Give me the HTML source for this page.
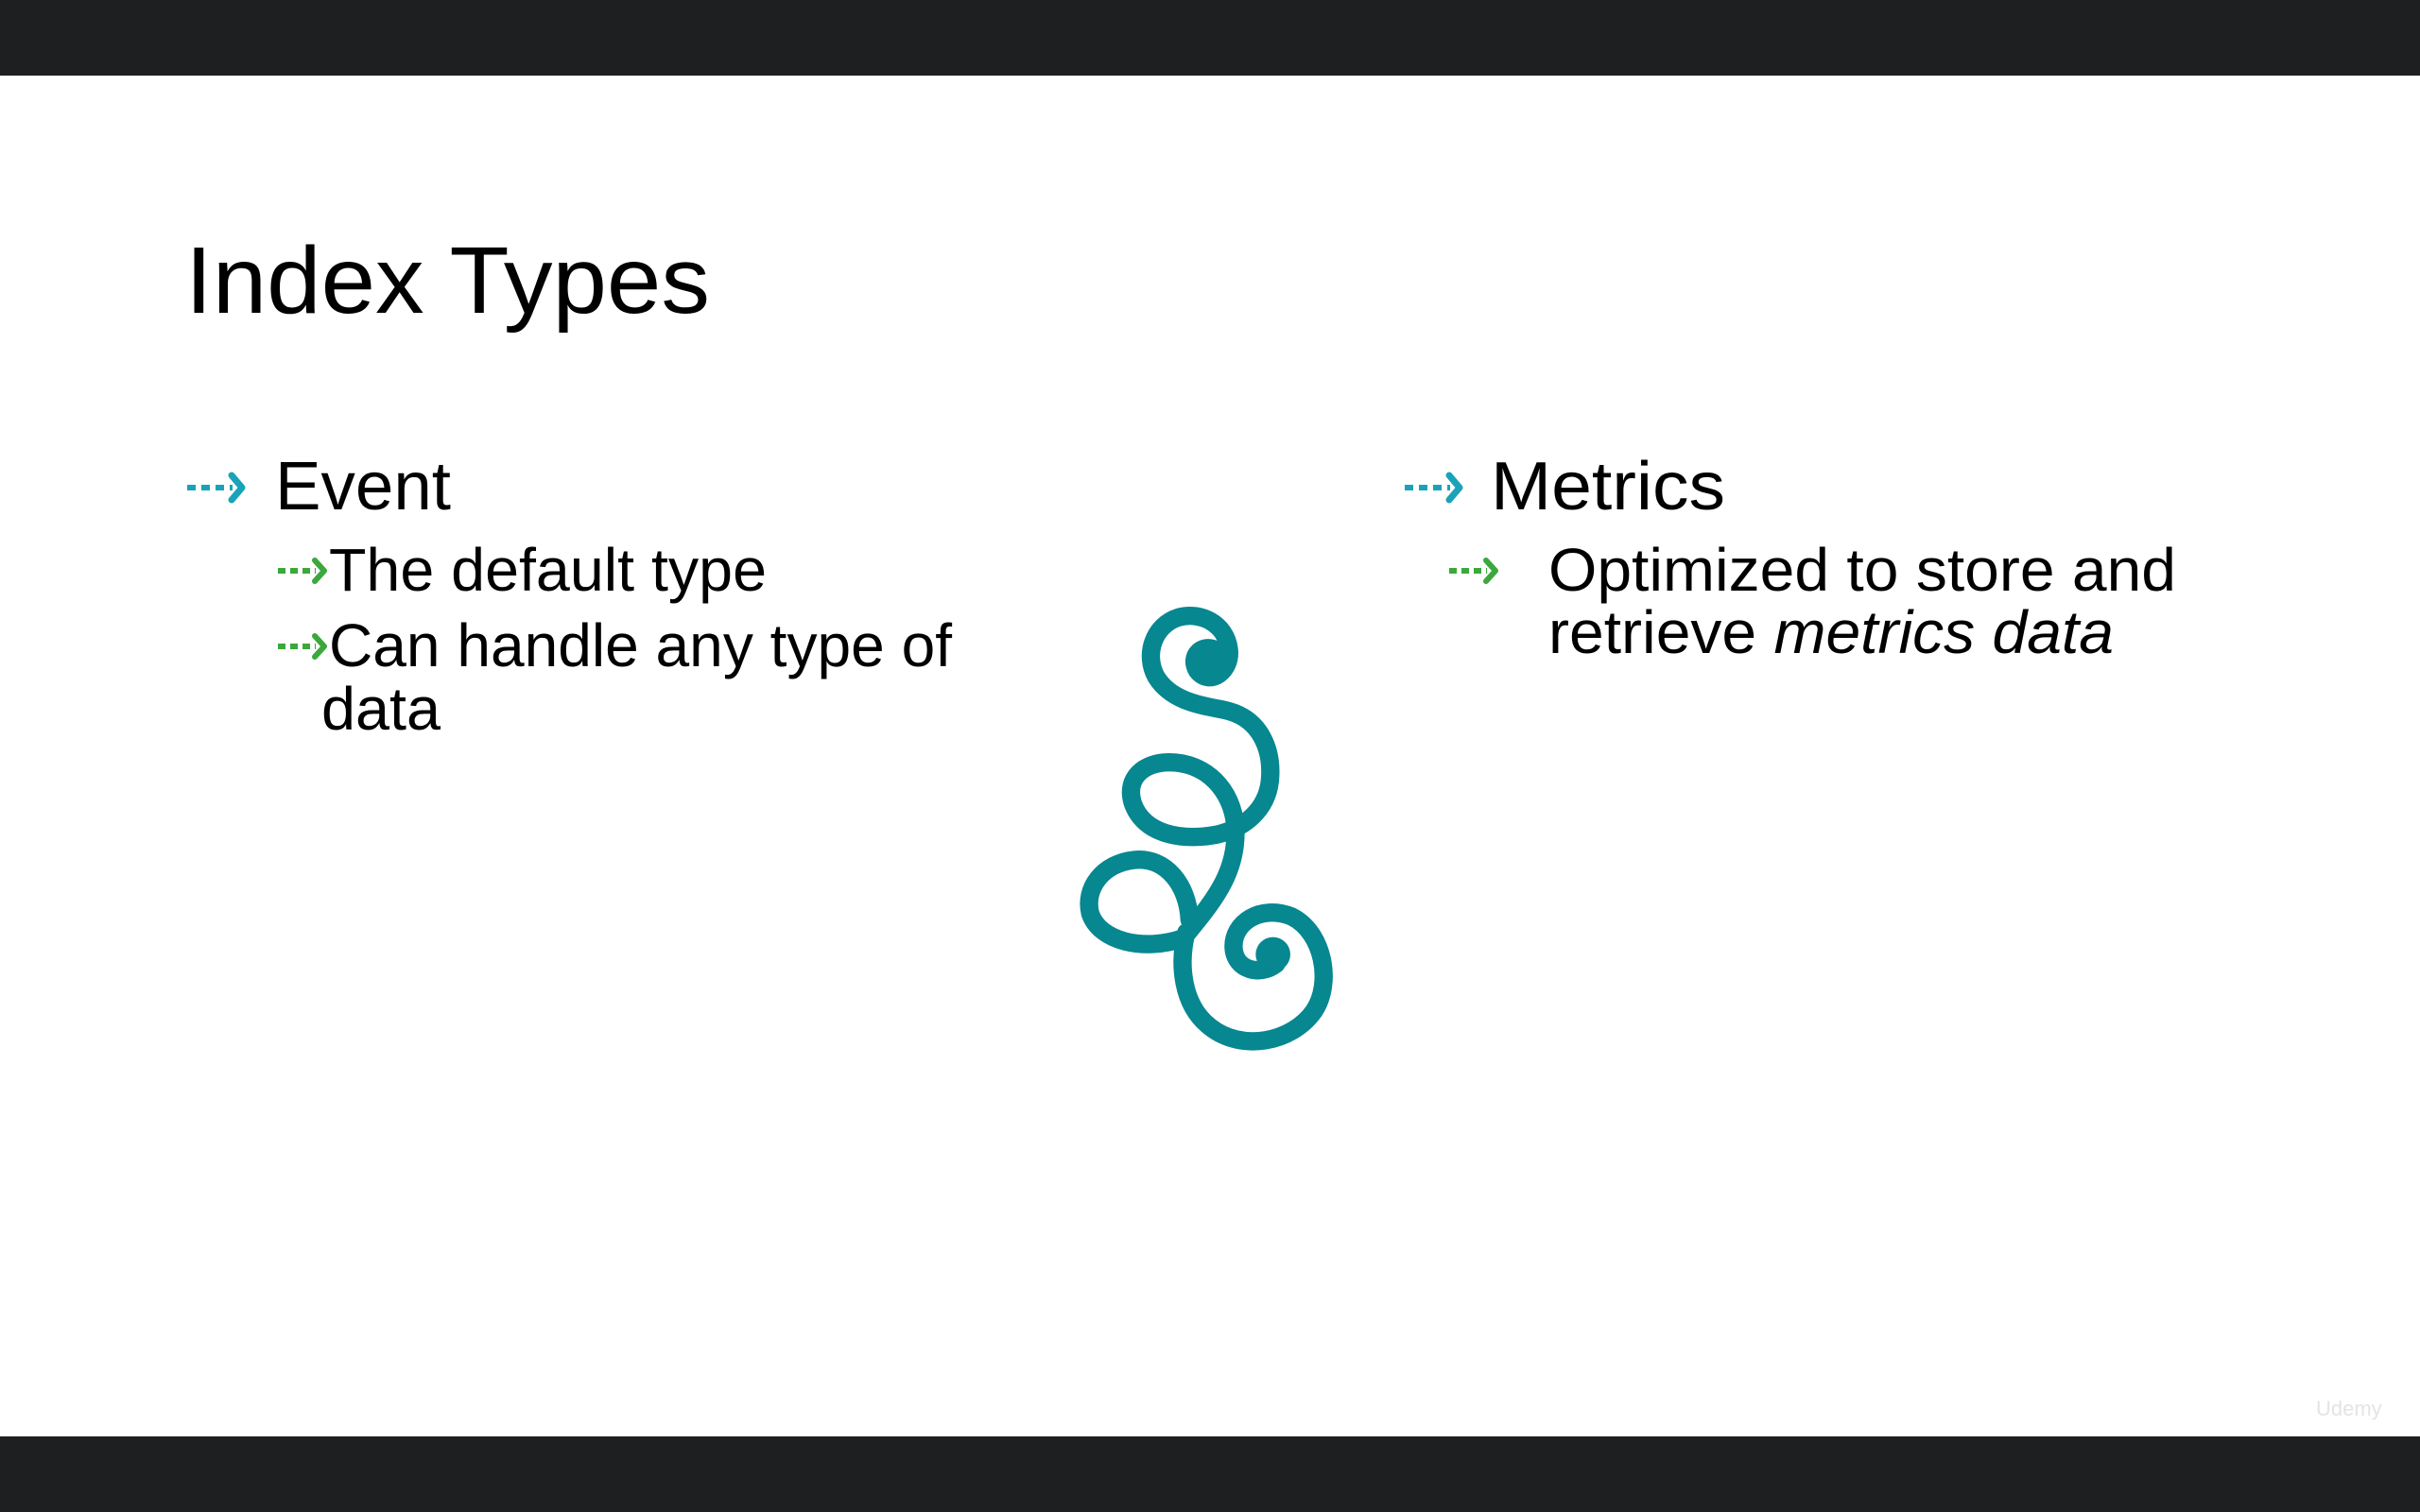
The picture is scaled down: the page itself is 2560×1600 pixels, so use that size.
<!DOCTYPE html>
<html><head><meta charset="utf-8"><style>
html,body{margin:0;padding:0;background:#fff;}
svg{display:block;}
text{font-family:"Liberation Sans",sans-serif;fill:#000;}
</style></head><body>
<svg width="2560" height="1600" viewBox="0 0 2560 1600" xmlns="http://www.w3.org/2000/svg">
<rect x="0" y="0" width="2560" height="80" fill="#1e1f21"/>
<rect x="0" y="1520" width="2560" height="80" fill="#1e1f21"/>

<text x="196" y="331" font-size="100" textLength="555" lengthAdjust="spacingAndGlyphs">Index Types</text>

<g fill="none" stroke-linecap="butt" stroke-width="6">
  <g stroke="#1aa3b8">
    <path d="M198 516 H246" stroke-dasharray="9 6"/>
    <path d="M245 503 L256 516 L245 529" stroke-width="7" stroke-linecap="round" stroke-linejoin="round"/>
    <path d="M1486 516 H1534" stroke-dasharray="9 6"/>
    <path d="M1533 503 L1544 516 L1533 529" stroke-width="7" stroke-linecap="round" stroke-linejoin="round"/>
  </g>
  <g stroke="#3ba83b">
    <path d="M294 604 H334" stroke-dasharray="8 5"/>
    <path d="M333 593 L343 604 L333 615" stroke-width="6" stroke-linecap="round" stroke-linejoin="round"/>
    <path d="M294 684 H334" stroke-dasharray="8 5"/>
    <path d="M333 673 L343 684 L333 695" stroke-width="6" stroke-linecap="round" stroke-linejoin="round"/>
    <path d="M1533 604 H1573" stroke-dasharray="8 5"/>
    <path d="M1572 593 L1582 604 L1572 615" stroke-width="6" stroke-linecap="round" stroke-linejoin="round"/>
  </g>
</g>

<text x="291" y="539" font-size="72" textLength="186" lengthAdjust="spacingAndGlyphs">Event</text>
<text x="348" y="625" font-size="64" textLength="463" lengthAdjust="spacingAndGlyphs">The default type</text>
<text x="348" y="705" font-size="64" textLength="659" lengthAdjust="spacingAndGlyphs">Can handle any type of</text>
<text x="340" y="772" font-size="64" textLength="126" lengthAdjust="spacingAndGlyphs">data</text>

<text x="1577" y="539" font-size="72" textLength="248" lengthAdjust="spacingAndGlyphs">Metrics</text>
<text x="1638" y="625" font-size="64" textLength="664" lengthAdjust="spacingAndGlyphs">Optimized to store and</text>
<text x="1638" y="691" font-size="64" textLength="598" lengthAdjust="spacingAndGlyphs">retrieve <tspan font-style="italic">metrics data</tspan></text>

<g transform="translate(1100,620) scale(0.3333)" fill="none" stroke="#078790" stroke-width="58" stroke-linecap="round" stroke-linejoin="round">
  <path d="M560 205 C520 180,470 220,500 270 C540 320,610 270,600 200 C590 120,510 80,440 100 C360 125,330 220,370 290 C420 370,520 380,590 395 C700 420,740 520,730 620 C720 710,650 770,560 790 C450 810,330 790,295 690 C270 610,330 560,410 560 C530 560,610 650,620 760 C630 900,560 990,470 1100"/>
  <path d="M475 1060 C470 950,400 860,300 870 C200 880,140 960,160 1040 C190 1130,330 1160,450 1120"/>
  <path d="M465 1100 C440 1200,450 1330,540 1400 C640 1480,800 1450,870 1350 C930 1260,900 1100,800 1050 C700 1010,610 1070,615 1150 C620 1220,700 1240,750 1200"/>
  <circle cx="535" cy="255" r="50" fill="#078790" stroke="none"/>
  <circle cx="740" cy="1170" r="55" fill="#078790" stroke="none"/>
</g>

<text x="2450" y="1498" font-size="22" style="fill:#e4e4e4">Udemy</text>
</svg>
</body></html>
